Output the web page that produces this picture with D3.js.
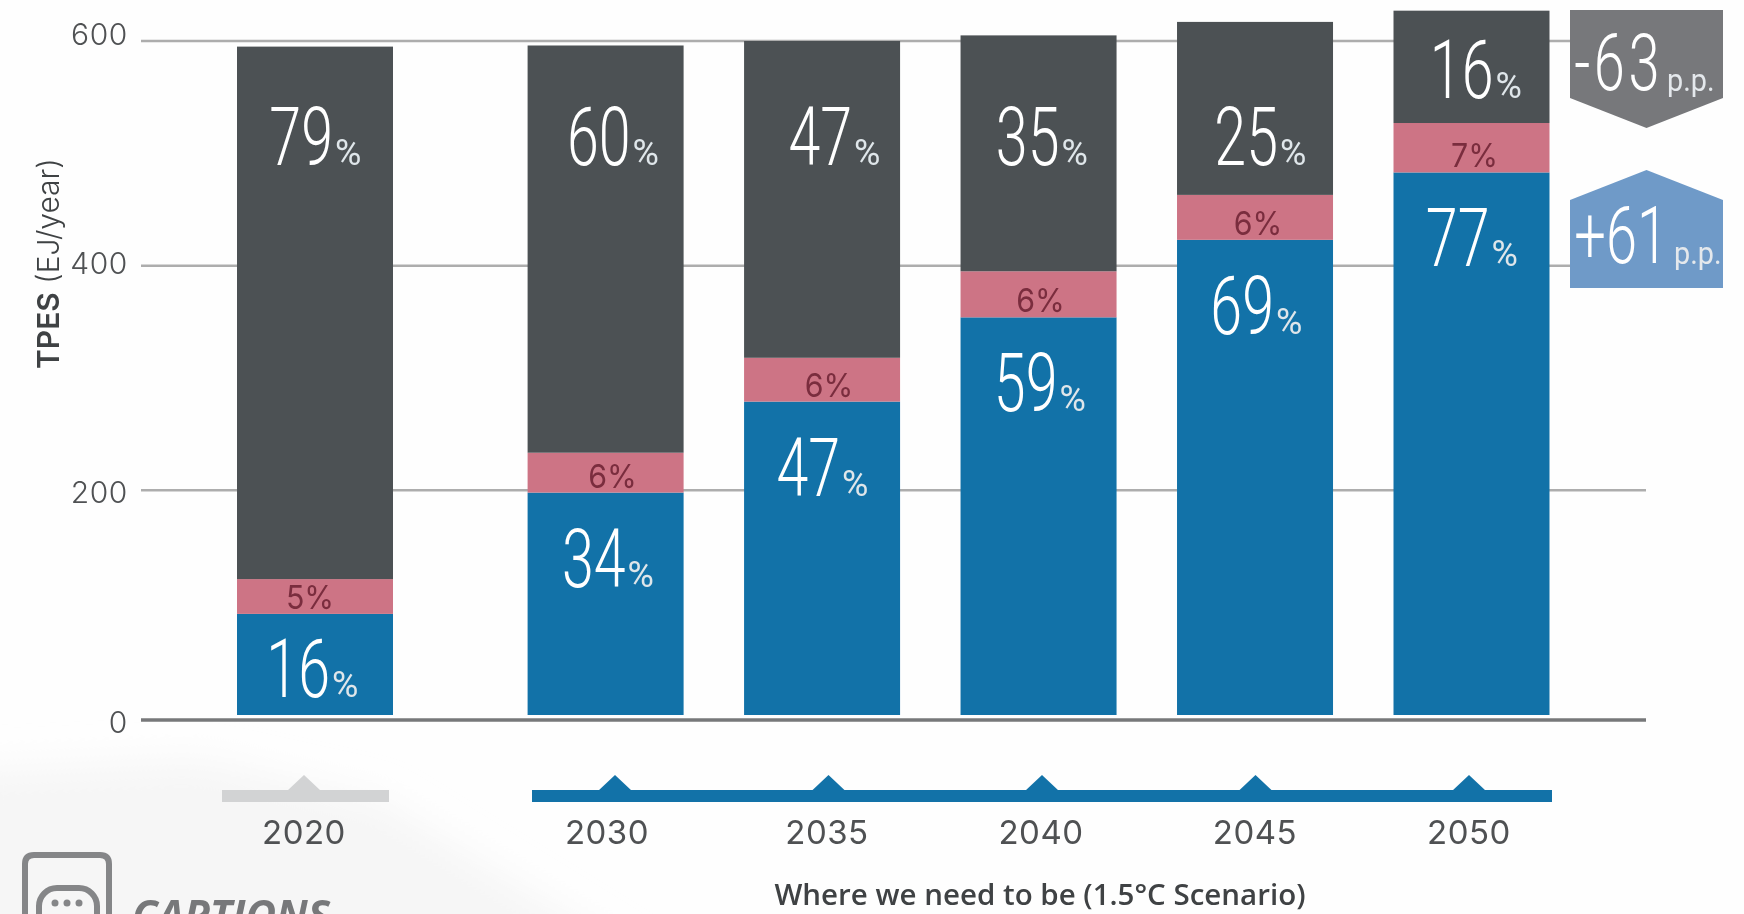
<!DOCTYPE html>
<html><head><meta charset="utf-8">
<script src="https://cdn.jsdelivr.net/npm/d3@7"></script>
<style>html,body{margin:0;padding:0;background:#fff;overflow:hidden}svg{display:block;filter:blur(0.55px)}</style>
</head><body><svg id="c" width="1744" height="914"></svg>
<script>
const years = [2020, 2030, 2035, 2040, 2045, 2050];
const renewables = [90, 198, 279, 354, 423, 483];
const nuclear = [31, 35.5, 39, 41, 40, 44];
const fossil = [474, 362.5, 282, 210, 154, 100];
const renewablesPct = [16, 34, 47, 59, 69, 77];
const nuclearPct = [5, 6, 6, 6, 6, 7];
const fossilPct = [79, 60, 47, 35, 25, 16];
const yTicks = [0, 200, 400, 600];
const badgeValues = ["-63", "+61"];
const badgeUnit = "p.p.";
const yTitleBold = "TPES", yTitleRest = " (EJ/year)";
const scenarioLabel = "Where we need to be (1.5°C Scenario)";
const captionsLabel = "CAPTIONS";

const colors = {fossil:"#4c5154", nuclear:"#cd7485", renew:"#1272a8", grid:"#adadad", base:"#77787a",
  text:"#4f5153", badgeDown:"#77787b", badgeUp:"#6f9ac8", pinkText:"#7a2d3e", tlGrey:"#d2d3d4"};

const svg = d3.select("#c");
const y = d3.scaleLinear().domain([0, 600]).range([715, 41]);
const yLabel = d3.scaleLinear().domain([0, 600]).range([722, 34]);
const xBar = d3.scaleLinear().domain([2020, 2030, 2050]).range([315, 605.6, 1471.5]);
const xTri = d3.scaleLinear().domain([2020, 2030, 2050]).range([304, 615, 1469]);
const xYear = d3.scaleLinear().domain([2020, 2030, 2035, 2050]).range([304, 607, 827, 1469]);
const barW = 156;
// small horizontal label offsets seen in the artwork
const fossilShift = [1, 8, 13, 4, 6, 5], renewShift = [-2, 3, 1, 2, 2, 1], nuclearShift = [-5, 7, 7, 2, 3, 3];

// faint background shapes
svg.append("rect").attr("width",1744).attr("height",914).attr("fill","#fefefe");
const defs = svg.append("defs");
defs.append("filter").attr("id","soft").attr("x","-20%").attr("y","-20%").attr("width","140%").attr("height","140%")
  .append("feGaussianBlur").attr("stdDeviation",18);
svg.append("path").attr("d","M-40,770 L-40,960 L640,960 L380,800 L200,760 Z").attr("fill","#f6f6f6").attr("filter","url(#soft)");

// grid
svg.append("g").selectAll("line").data(yTicks.filter(d=>d>0)).join("line")
  .attr("x1",141).attr("x2",1646).attr("y1",d=>y(d)).attr("y2",d=>y(d))
  .attr("stroke",colors.grid).attr("stroke-width",2.5);
svg.append("line").attr("x1",141).attr("x2",1646).attr("y1",y(0)+5).attr("y2",y(0)+5)
  .attr("stroke",colors.base).attr("stroke-width",3.5);

// y tick labels
svg.append("g").selectAll("text").data(yTicks).join("text")
  .attr("x",128).attr("y",d=>yLabel(d)).attr("dy","0.36em").attr("text-anchor","end")
  .attr("font-family","Inter").attr("font-weight",300).attr("font-size",30)
  .attr("letter-spacing",0.6).attr("fill",colors.text).text(d=>d);

// y title
const yt = svg.append("text").attr("transform","translate(59,369) rotate(-90)")
  .attr("font-family","Inter").attr("font-size",30).attr("fill","#3f4244");
yt.append("tspan").attr("font-weight",600).text(yTitleBold);
yt.append("tspan").attr("font-weight",300).text(yTitleRest);

// stacked bars
const rows = years.map((yr,i)=>({year:yr, renew:renewables[i], nuclear:nuclear[i], fossil:fossil[i]}));
const stack = d3.stack().keys(["renew","nuclear","fossil"])(rows);
svg.append("g").selectAll("g").data(stack).join("g").attr("fill",d=>colors[d.key])
  .selectAll("rect").data(d=>d).join("rect")
  .attr("x",d=>xBar(d.data.year)-barW/2).attr("width",barW)
  .attr("y",d=>y(d[1])).attr("height",d=>y(d[0])-y(d[1]));

// condensed big percentage labels
function bigLabel(parent, cx, base, num){
  parent.append("g").attr("transform",`translate(${cx+17},${base}) scale(0.7,1)`)
    .append("text").attr("text-anchor","end").attr("font-family","Roboto")
    .attr("font-weight",300).attr("font-size",82).attr("fill","#fff").text(num);
  parent.append("text").attr("x",cx+19).attr("y",base).attr("font-family","Roboto")
    .attr("font-weight",400).attr("font-size",36).attr("fill","#dfe6ea").text("%");
}
const lab = svg.append("g");
years.forEach((yr,i)=>{
  const cx = xBar(yr);
  const top = y(renewables[i]+nuclear[i]);
  bigLabel(lab, cx+fossilShift[i], Math.min(165, top-25), fossilPct[i]);
  bigLabel(lab, cx+renewShift[i], Math.min(y(renewables[i])+94, y(0)-18), renewablesPct[i]);
  lab.append("g").attr("transform",`translate(${cx+nuclearShift[i]},${y(renewables[i])-5}) scale(0.92,1)`)
    .append("text").attr("text-anchor","middle").attr("font-family","Inter")
    .attr("font-weight",400).attr("font-size",33).attr("fill",colors.pinkText).text(nuclearPct[i]+"%");
});

// badges
const bx0 = 1570, bx1 = 1723, bxm = (bx0+bx1)/2;
svg.append("path").attr("d",`M${bx0},10 H${bx1} V98 L${bxm},128 L${bx0},98 Z`).attr("fill",colors.badgeDown);
svg.append("path").attr("d",`M${bx0},200 L${bxm},170 L${bx1},200 V288 H${bx0} Z`).attr("fill",colors.badgeUp);
[[90,1663,1667],[263,1668,1674]].forEach(([base,numEnd,unitX],i)=>{
  svg.append("g").attr("transform",`translate(${numEnd},${base}) scale(0.7,1)`)
    .append("text").attr("text-anchor","end").attr("font-family","Roboto").attr("font-weight",300)
    .attr("font-size",80).attr("letter-spacing",i===0?5:0).attr("fill","#fff").text(badgeValues[i]);
  svg.append("g").attr("transform",`translate(${unitX},${base+1}) scale(0.9,1)`)
    .append("text").attr("font-family","Roboto").attr("font-weight",400)
    .attr("font-size",32).attr("fill","#e4e8ec").text(badgeUnit);
});

// timeline
const tl = svg.append("g");
tl.append("rect").attr("x",222).attr("width",167).attr("y",790).attr("height",12).attr("fill",colors.tlGrey);
tl.append("rect").attr("x",532).attr("width",1020).attr("y",790).attr("height",12).attr("fill",colors.renew);
tl.selectAll("path").data(years).join("path")
  .attr("d",d=>`M${xTri(d)-17},791 L${xTri(d)},775 L${xTri(d)+17},791 Z`)
  .attr("fill",d=>d===2020?colors.tlGrey:colors.renew);
tl.selectAll("text").data(years).join("text")
  .attr("x",d=>xYear(d)).attr("y",832).attr("dy","0.36em").attr("text-anchor","middle")
  .attr("font-family","Inter").attr("font-weight",400).attr("font-size",33)
  .attr("letter-spacing",0.5).attr("fill",colors.text).text(d=>d);

// scenario caption
svg.append("text").attr("x",1040).attr("y",905).attr("text-anchor","middle")
  .attr("font-family","Open Sans").attr("font-weight",600).attr("font-size",29.5)
  .attr("fill","#3f4244").text(scenarioLabel);

// captions icon and word
const ic = svg.append("g").attr("fill","none").attr("stroke","#858688");
ic.append("path").attr("d","M25,930 V864 Q25,855 34,855 H100 Q109,855 109,864 V930").attr("stroke-width",6);
ic.append("rect").attr("x",39).attr("y",888).attr("width",58).attr("height",50).attr("rx",18).attr("stroke-width",6);
svg.append("g").attr("fill","#858688").selectAll("circle").data([-1,0,1]).join("circle")
  .attr("cx",d=>67+d*12).attr("cy",903).attr("r",3.5);
svg.append("text").attr("x",132).attr("y",930).attr("font-family","Open Sans").attr("font-style","italic")
  .attr("font-weight",700).attr("font-size",42).attr("fill","#77787a").text(captionsLabel);
</script></body></html>
